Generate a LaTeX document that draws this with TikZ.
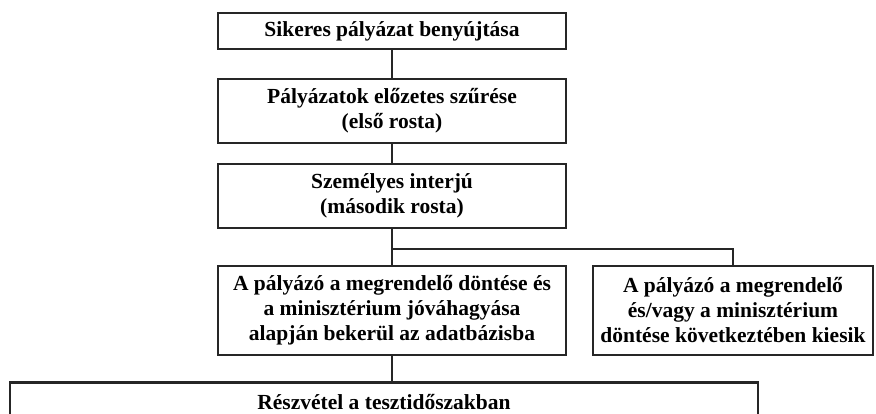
\documentclass[tikz,border=0pt]{standalone}
\usepackage{fontspec}
\setmainfont{Liberation Serif}
\usetikzlibrary{positioning}
\tikzstyle{process} = [rectangle, text centered, draw=black!85, line width=2.6pt, align=center, font=\bfseries\fontsize{21.5}{25}\selectfont, inner sep=0pt]
\tikzstyle{line} = [line width=2.2pt, draw=black!85]

\begin{document}
\begin{tikzpicture}[x=1pt, y=-1pt]
			\useasboundingbox (0,0) rectangle (876,413);
			% Nodes
			\node (benyujtas) [process, minimum width=348pt, minimum height=36pt] at (392,31) {Sikeres pályázat benyújtása};
			\node (szures) [process, minimum width=348pt, minimum height=64pt] at (392,111) {Pályázatok előzetes szűrése\\(első rosta)};
			\node (interju) [process, minimum width=348pt, minimum height=64pt] at (392,196) {Személyes interjú\\(második rosta)};
			\node (bekerul) [process, minimum width=348pt, minimum height=89pt] at (392,310.5) {A pályázó a megrendelő döntése és\\a minisztérium jóváhagyása\\alapján bekerül az adatbázisba};
			\node (kiesik) [process, minimum width=280pt, minimum height=89pt] at (733,310.5) {A pályázó a megrendelő\\és/vagy a minisztérium\\döntése következtében kiesik};
			\node (teszt) [process, minimum width=748pt, minimum height=40pt, anchor=north] at (384,381) {Részvétel a tesztidőszakban};
			\coordinate (elagazas) at (392,249);
			% Lines
			\draw [line] (benyujtas.south) -- (szures.north);
			\draw [line] (szures.south) -- (interju.north);
			\draw [line] (interju.south) -- (bekerul.north);
			\draw [line] (elagazas) -| (kiesik.north);
			\draw [line] (bekerul.south) -- (bekerul.south |- teszt.north);
		\end{tikzpicture}
\end{document}
